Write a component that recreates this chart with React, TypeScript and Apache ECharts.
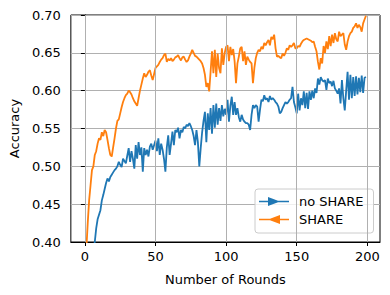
import React, { useEffect, useRef } from "react";
import * as echarts from "echarts";

const xTicks = [0, 50, 100, 150, 200];

const noShare = [
  0.33, 0.345, 0.355, 0.365, 0.375, 0.385, 0.392, 0.4, 0.418, 0.43,
  0.436, 0.442, 0.455, 0.462, 0.47, 0.478, 0.484, 0.48, 0.486, 0.489,
  0.492, 0.495, 0.497, 0.5, 0.506, 0.502, 0.499, 0.51, 0.507, 0.504,
  0.514, 0.524, 0.506, 0.52, 0.51, 0.497, 0.528, 0.51, 0.532, 0.515,
  0.525, 0.493, 0.524, 0.515, 0.522, 0.513, 0.526, 0.53, 0.522, 0.528,
  0.534, 0.52, 0.537, 0.515, 0.53, 0.522, 0.51, 0.493, 0.525, 0.541,
  0.515, 0.53, 0.546, 0.528, 0.548, 0.545, 0.551, 0.537, 0.548, 0.545,
  0.552, 0.55, 0.555, 0.553, 0.557, 0.553, 0.548, 0.54, 0.528, 0.548,
  0.532, 0.5, 0.524, 0.545, 0.56, 0.572, 0.532, 0.57, 0.548, 0.577,
  0.543, 0.581, 0.551, 0.583, 0.555, 0.577, 0.56, 0.581, 0.566, 0.576,
  0.568, 0.588, 0.559, 0.58, 0.592, 0.568, 0.585, 0.568, 0.577, 0.565,
  0.559, 0.568, 0.562, 0.559, 0.557, 0.557, 0.555, 0.548, 0.568, 0.581,
  0.577, 0.581, 0.579, 0.559, 0.575, 0.588, 0.586, 0.594, 0.588, 0.59,
  0.585, 0.593, 0.588, 0.59, 0.588, 0.585, 0.583, 0.579, 0.57, 0.572,
  0.577, 0.581, 0.585, 0.583, 0.585, 0.588, 0.59, 0.605, 0.585, 0.578,
  0.57, 0.596, 0.574, 0.59, 0.581, 0.599, 0.577, 0.597, 0.576, 0.599,
  0.588, 0.6, 0.59, 0.603, 0.597, 0.616, 0.608, 0.618, 0.614, 0.612,
  0.614, 0.601, 0.616, 0.61, 0.612, 0.606, 0.613, 0.603, 0.6, 0.596,
  0.603, 0.583, 0.614, 0.59, 0.574, 0.6, 0.625, 0.588, 0.621, 0.59,
  0.618, 0.593, 0.619, 0.595, 0.617, 0.598, 0.62, 0.597, 0.617, 0.618,
];

const share = [
  0.37, 0.39, 0.425, 0.455, 0.475, 0.495, 0.5, 0.515, 0.52, 0.53,
  0.537, 0.535, 0.545, 0.54, 0.548, 0.545, 0.535, 0.524, 0.515, 0.513,
  0.525, 0.537, 0.55, 0.56, 0.562, 0.57, 0.578, 0.585, 0.59, 0.594,
  0.596, 0.6, 0.598, 0.595, 0.59, 0.586, 0.583, 0.58, 0.59, 0.6,
  0.608, 0.616, 0.623, 0.618, 0.621, 0.625, 0.627, 0.62, 0.614, 0.622,
  0.63, 0.632, 0.634, 0.638, 0.641, 0.643, 0.647, 0.649, 0.638, 0.642,
  0.64, 0.643, 0.639, 0.641, 0.644, 0.645, 0.647, 0.643, 0.64, 0.644,
  0.645, 0.641, 0.638, 0.64, 0.645, 0.649, 0.654, 0.65, 0.646, 0.645,
  0.643, 0.641, 0.639, 0.636, 0.63, 0.621, 0.605, 0.61, 0.599, 0.625,
  0.652, 0.623, 0.654, 0.618, 0.649, 0.63, 0.623, 0.656, 0.634, 0.65,
  0.658, 0.66, 0.639, 0.658, 0.647, 0.655, 0.639, 0.61, 0.636, 0.645,
  0.656, 0.658, 0.639, 0.652, 0.634, 0.645, 0.641, 0.638, 0.636, 0.61,
  0.63, 0.643, 0.65, 0.654, 0.652, 0.658, 0.655, 0.663, 0.66, 0.664,
  0.667, 0.66, 0.671, 0.668, 0.674, 0.656, 0.645, 0.646, 0.644, 0.643,
  0.649, 0.646, 0.65, 0.656, 0.654, 0.66, 0.658, 0.66, 0.663, 0.656,
  0.656, 0.659, 0.658, 0.662, 0.665, 0.667, 0.668, 0.669, 0.668, 0.667,
  0.666, 0.664, 0.665, 0.658, 0.652, 0.638, 0.628, 0.643, 0.636, 0.659,
  0.65, 0.665, 0.655, 0.672, 0.659, 0.674, 0.663, 0.676, 0.668, 0.665,
  0.678, 0.672, 0.674, 0.676, 0.661, 0.654, 0.665, 0.672, 0.676, 0.678,
  0.683, 0.685, 0.689, 0.683, 0.687, 0.684, 0.678, 0.689, 0.694, 0.699,
];

const BLUE = "#1f77b4";
const ORANGE = "#ff7f0e";
const FONT = "DejaVu Sans";

export default function App() {
  const ref = useRef<HTMLDivElement>(null);
  useEffect(() => {
    if (!ref.current) return;
    const chart = echarts.init(ref.current, null, { renderer: "svg" });
    const mk = (arr: number[]) => arr.map((v, i) => [i, v]);
    chart.setOption({
      animation: false,
      backgroundColor: "#ffffff",
      textStyle: { fontFamily: FONT },
      grid: {
        left: 70,
        top: 15,
        right: 10,
        bottom: 53,
        show: true,
        borderColor: "#000000",
        borderWidth: 1,
        backgroundColor: "transparent",
      },
      legend: {
        orient: "vertical",
        left: 255,
        top: 189,
        padding: [6, 10, 7, 4],
        itemGap: 5,
        itemWidth: 30,
        itemHeight: 9,
        backgroundColor: "rgba(255,255,255,0.8)",
        borderColor: "#cccccc",
        borderWidth: 1,
        borderRadius: 3,
        textStyle: { fontFamily: FONT, fontSize: 13, color: "#000", padding: [0, 0, 0, 5] },
        data: [
          {
            name: "no SHARE",
            icon: "path://M0,3.75 H30 V5.25 H0 Z M9,0 L21,4.5 L9,9 Z",
            itemStyle: { color: BLUE, borderWidth: 0 },
          },
          {
            name: "SHARE",
            icon: "path://M0,3.75 H30 V5.25 H0 Z M21,0 L21,9 L9,4.5 Z",
            itemStyle: { color: ORANGE, borderWidth: 0 },
          },
        ],
      },
      xAxis: {
        type: "value",
        min: -9.95,
        max: 208.95,
        name: "Number of Rounds",
        nameLocation: "middle",
        nameGap: 31,
        nameTextStyle: { fontFamily: FONT, fontSize: 13, color: "#000" },
        axisLine: { show: true, onZero: false, lineStyle: { color: "#000", width: 1 } },
        axisTick: { show: true, length: 4, customValues: xTicks, lineStyle: { color: "#000" } },
        axisLabel: { customValues: xTicks, fontFamily: FONT, fontSize: 13, color: "#000", margin: 8 },
        splitLine: { show: false },
      },
      yAxis: {
        type: "value",
        min: 0.4,
        max: 0.7,
        interval: 0.05,
        name: "Accuracy",
        nameLocation: "middle",
        nameGap: 45,
        nameTextStyle: { fontFamily: FONT, fontSize: 13, color: "#000" },
        axisLine: { show: true, lineStyle: { color: "#000", width: 1 } },
        axisTick: { show: true, length: 4, lineStyle: { color: "#000" } },
        axisLabel: {
          fontFamily: FONT,
          fontSize: 13,
          color: "#000",
          margin: 10,
          formatter: (v: number) => v.toFixed(2),
        },
        splitLine: { show: true, lineStyle: { color: "#b0b0b0", width: 1 } },
      },
      series: [
        {
          name: "grid",
          type: "line",
          data: [],
          z: 1,
          silent: true,
          markLine: {
            silent: true,
            symbol: "none",
            label: { show: false },
            lineStyle: { color: "#b0b0b0", width: 1, type: "solid" },
            emphasis: { disabled: true },
            data: xTicks.map((t) => ({ xAxis: t })),
          },
        },
        {
          name: "no SHARE",
          type: "line",
          z: 3,
          data: mk(noShare),
          showSymbol: false,
          symbol: "none",
          clip: true,
          color: BLUE,
          lineStyle: { color: BLUE, width: 1.8 },
        },
        {
          name: "SHARE",
          type: "line",
          z: 3,
          data: mk(share),
          showSymbol: false,
          symbol: "none",
          clip: true,
          color: ORANGE,
          lineStyle: { color: ORANGE, width: 1.8 },
        },
      ],
    });
    return () => chart.dispose();
  }, []);
  return (
    <div
      ref={ref}
      style={{ position: "fixed", left: 0, top: 0, width: 390, height: 295, background: "#fff" }}
    />
  );
}
